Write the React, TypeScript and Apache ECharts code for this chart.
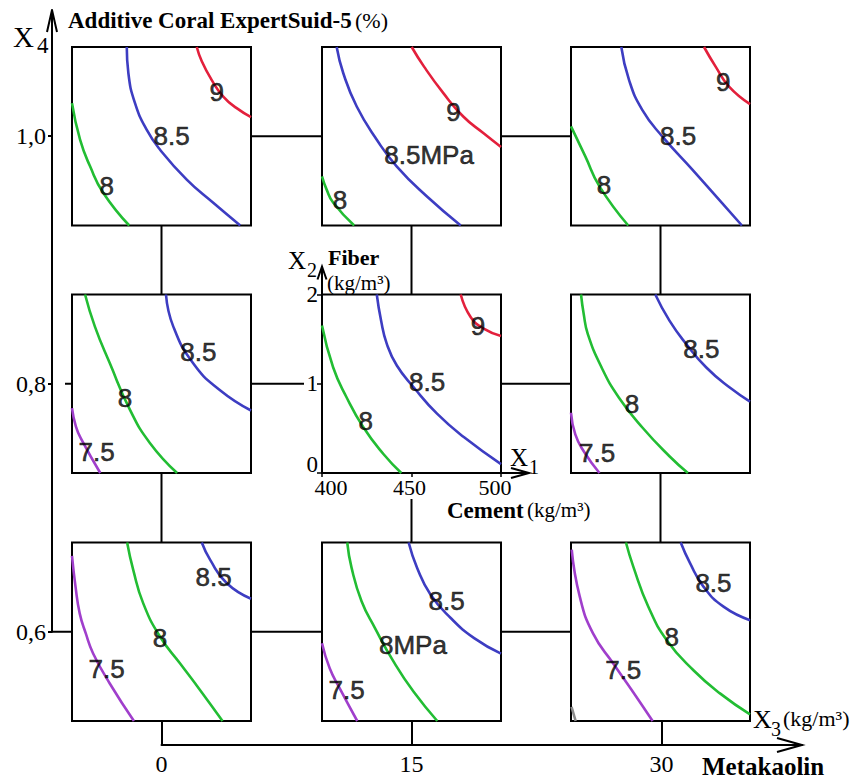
import React, { useEffect, useRef } from "react";
import * as echarts from "echarts";

// ---------- axis values ----------
const X1_MIN = 400;
const X1_MAX = 500;
const X2_MIN = 0;
const X2_MAX = 2;
const X1_TICKS = [400, 450, 500];
const X2_TICKS = [0, 1, 2];
const X2_LABEL_POS = [0.1, 1, 2]; // "0" label sits slightly above its tick in the reference
const X3_TICKS = [0, 15, 30];
const X4_TICKS = [0.6, 0.8, 1.0];

// ---------- contour lines, [X1 cement, X2 fiber] ----------
// top row (X4 = 1.0)
const TL_9 = [[469.7, 2], [472.5, 1.84], [478, 1.631], [484.5, 1.445], [492, 1.315], [500, 1.215]];
const TL_85 = [[430.6, 2], [431.5, 1.706], [435.2, 1.371], [441.7, 1.073], [449.2, 0.849], [464.1, 0.514], [478.9, 0.254], [494, 0]];
const TL_8 = [[400, 1.371], [404.5, 0.961], [410.1, 0.663], [417.5, 0.365], [432, 0]];
const TL_LABELS = [[480.8, 1.5, "9"], [455.7, 1.0, "8.5"], [419.4, 0.44, "8"]];

const TM_9 = [[450.1, 2], [457, 1.78], [467.8, 1.483], [478.9, 1.221], [490.1, 1.036], [500, 0.88]];
const TM_85 = [[408.2, 2], [411.9, 1.706], [419.4, 1.333], [430.6, 0.961], [441.7, 0.663], [458.5, 0.327], [477.5, 0]];
const TM_8 = [[400, 0.551], [402.6, 0.402], [406.3, 0.254], [418, 0]];
const TM_LABELS = [[473.4, 1.277, "9"], [459.8, 0.793, "8.5MPa"], [410.1, 0.29, "8"]];

const TR_9 = [[474.3, 2], [480.8, 1.78], [488.3, 1.556], [500, 1.36]];
const TR_85 = [[428.1, 2], [432.4, 1.631], [439.8, 1.296], [451, 0.998], [467.8, 0.626], [482.7, 0.291], [495.5, 0]];
const TR_8 = [[400, 1.11], [408, 0.774], [415.9, 0.439], [432, 0]];
const TR_LABELS = [[485.1, 1.61, "9"], [459.8, 1.0, "8.5"], [418.4, 0.458, "8"]];

// middle row (X4 = 0.8)
const ML_85 = [[452.5, 2], [456.6, 1.64], [467.8, 1.226], [482.7, 0.927], [500, 0.7]];
const ML_8 = [[407.3, 2], [412.8, 1.64], [421.2, 1.226], [432.4, 0.708], [443.6, 0.334], [458.7, 0]];
const ML_75 = [[400, 0.727], [402.2, 0.52], [405.4, 0.37], [415.8, 0]];
const ML_LABELS = [[470.6, 1.36, "8.5"], [429.6, 0.84, "8"], [413.8, 0.24, "7.5"]];

const C_9 = [[477.5, 2], [483.1, 1.746], [490.6, 1.615], [500, 1.535]];
const C_85 = [[430.6, 2], [433, 1.708], [436.2, 1.447], [441.8, 1.204], [451.2, 0.961], [464.4, 0.662], [479.4, 0.4], [500, 0.1]];
const C_8 = [[400, 1.652], [406.2, 1.185], [413.7, 0.849], [423.1, 0.512], [434.3, 0.213], [444.3, 0]];
const C_LABELS = [[487.2, 1.65, "9"], [458.7, 1.017, "8.5"], [424.4, 0.587, "8"]];

const MR_85 = [[447.1, 2], [455, 1.707], [464.4, 1.445], [475.6, 1.182], [488.7, 0.957], [500, 0.8]];
const MR_8 = [[405.6, 2], [407.1, 1.782], [409.4, 1.557], [417.1, 1.182], [426.8, 0.844], [440, 0.507], [455, 0.188], [465.3, 0]];
const MR_75 = [[400, 0.675], [402.4, 0.432], [407.1, 0.244], [415.9, 0]];
const MR_LABELS = [[472.8, 1.388, "8.5"], [434, 0.769, "8"], [414.6, 0.225, "7.5"]];

// bottom row (X4 = 0.6)
const BL_85 = [[472.5, 2], [477.2, 1.805], [486.5, 1.543], [500, 1.37]];
const BL_8 = [[430.8, 2], [434.2, 1.693], [439.8, 1.318], [449.2, 0.944], [460.4, 0.644], [471.6, 0.345], [484.1, 0]];
const BL_75 = [[400, 1.85], [402, 1.5], [404.3, 1.206], [407.7, 0.981], [411.8, 0.757], [421.1, 0.42], [434.6, 0]];
const BL_LABELS = [[479.1, 1.618, "8.5"], [449.2, 0.925, "8"], [419.3, 0.588, "7.5"]];

const BM_85 = [[448.4, 2], [453.1, 1.718], [460.6, 1.417], [471.9, 1.154], [485, 0.929], [500, 0.755]];
const BM_8 = [[414.1, 2], [416.5, 1.718], [422.1, 1.342], [429.6, 1.041], [440, 0.665], [451.2, 0.327], [464.4, 0]];
const BM_75 = [[400, 0.872], [404.3, 0.59], [409.9, 0.365], [419.7, 0]];
const BM_LABELS = [[469.6, 1.342, "8.5"], [450.8, 0.853, "8MPa"], [413.7, 0.346, "7.5"]];

const BR_85 = [[461.3, 2], [466.5, 1.768], [474, 1.506], [485.2, 1.281], [500, 1.13]];
const BR_8 = [[430.7, 2], [434.8, 1.73], [443.2, 1.281], [453.5, 0.906], [468.4, 0.569], [483.4, 0.307], [500, 0.075]];
const BR_75 = [[400.4, 1.92], [404.9, 1.393], [412.3, 0.981], [423.6, 0.644], [434, 0.345], [445.6, 0]];
const BR_7 = [[400.3, 0.157], [402.6, 0]];
const BR_LABELS = [[479.6, 1.543, "8.5"], [456.3, 0.944, "8"], [429.2, 0.569, "7.5"]];

// ---------- styling ----------
const SERIF = '"Liberation Serif", "Times New Roman", serif';
const SANS = '"Liberation Sans", Arial, sans-serif';
const LEVEL_COLOR: Record<string, string> = {
  "9": "#e3203c",
  "8.5": "#3d3dc2",
  "8": "#22bd33",
  "7.5": "#a03fcc",
  "7": "#8c8c8c",
};

const PANEL_LEFT = [72, 322, 571];
const PANEL_TOP = [47, 294.5, 542.5];
const PANEL_W = 179;
const PANEL_H = 178.5;
const X4_AXIS_X = 52;
const X4_AXIS_TOP = 10;
const X3_AXIS_Y = 745;
const X3_AXIS_END = 802;

type Curve = { level: string; pts: number[][] };
type Panel = { row: number; col: number; curves: Curve[]; labels: (number | string)[][]; center?: boolean };

const PANELS: Panel[] = [
  { row: 0, col: 0, curves: [{ level: "9", pts: TL_9 }, { level: "8.5", pts: TL_85 }, { level: "8", pts: TL_8 }], labels: TL_LABELS },
  { row: 0, col: 1, curves: [{ level: "9", pts: TM_9 }, { level: "8.5", pts: TM_85 }, { level: "8", pts: TM_8 }], labels: TM_LABELS },
  { row: 0, col: 2, curves: [{ level: "9", pts: TR_9 }, { level: "8.5", pts: TR_85 }, { level: "8", pts: TR_8 }], labels: TR_LABELS },
  { row: 1, col: 0, curves: [{ level: "8.5", pts: ML_85 }, { level: "8", pts: ML_8 }, { level: "7.5", pts: ML_75 }], labels: ML_LABELS },
  { row: 1, col: 1, center: true, curves: [{ level: "9", pts: C_9 }, { level: "8.5", pts: C_85 }, { level: "8", pts: C_8 }], labels: C_LABELS },
  { row: 1, col: 2, curves: [{ level: "8.5", pts: MR_85 }, { level: "8", pts: MR_8 }, { level: "7.5", pts: MR_75 }], labels: MR_LABELS },
  { row: 2, col: 0, curves: [{ level: "8.5", pts: BL_85 }, { level: "8", pts: BL_8 }, { level: "7.5", pts: BL_75 }], labels: BL_LABELS },
  { row: 2, col: 1, curves: [{ level: "8.5", pts: BM_85 }, { level: "8", pts: BM_8 }, { level: "7.5", pts: BM_75 }], labels: BM_LABELS },
  { row: 2, col: 2, curves: [{ level: "8.5", pts: BR_85 }, { level: "8", pts: BR_8 }, { level: "7.5", pts: BR_75 }, { level: "7", pts: BR_7 }], labels: BR_LABELS },
];

function buildOption() {
  const grid: any[] = [];
  const xAxis: any[] = [];
  const yAxis: any[] = [];
  const series: any[] = [];
  const tickFont = { fontFamily: SERIF, fontSize: 22, color: "#000" };

  PANELS.forEach((p, i) => {
    grid.push({
      left: PANEL_LEFT[p.col],
      top: PANEL_TOP[p.row],
      width: PANEL_W,
      height: PANEL_H,
      show: true,
      borderColor: "#000",
      borderWidth: 2,
      backgroundColor: "#fff",
      containLabel: false,
    });
    xAxis.push({
      gridIndex: i,
      type: "value",
      min: X1_MIN,
      max: X1_MAX,
      interval: 50,
      show: !!p.center,
      axisLine: { show: true, lineStyle: { color: "#000", width: 2 } },
      axisTick: { show: true, length: 4, lineStyle: { color: "#000", width: 1.5 } },
      axisLabel: {
        ...tickFont,
        margin: 5,
        lineHeight: 18,
        customValues: X1_TICKS,
        formatter: (v: number) => (v === X1_MIN ? `{l|${v}}` : v === X1_MAX ? `{r|${v}}` : `{m|${v}}`),
        rich: {
          l: { ...tickFont, lineHeight: 18, padding: [0, 0, 0, 18] },
          r: { ...tickFont, lineHeight: 18, padding: [0, 12, 0, 0] },
          m: { ...tickFont, lineHeight: 18, padding: [0, 4, 0, 0] },
        },
      },
      splitLine: { show: false },
    });
    yAxis.push({
      gridIndex: i,
      type: "value",
      min: X2_MIN,
      max: X2_MAX,
      interval: 1,
      show: !!p.center,
      axisLine: { show: true, lineStyle: { color: "#000", width: 2 } },
      axisTick: { show: true, length: 5, customValues: X2_TICKS, lineStyle: { color: "#000", width: 1.5 } },
      axisLabel: {
        ...tickFont,
        fontSize: 23,
        margin: 4,
        lineHeight: 18,
        customValues: X2_LABEL_POS,
        formatter: (v: number) => String(Math.round(v)),
      },
      splitLine: { show: false },
    });
    p.curves.forEach((c) => {
      series.push({
        type: "line",
        xAxisIndex: i,
        yAxisIndex: i,
        data: c.pts,
        smooth: 0.5,
        showSymbol: false,
        symbol: "none",
        silent: true,
        clip: true,
        lineStyle: { color: LEVEL_COLOR[c.level], width: 2.6 },
        z: 3,
      });
    });
    series.push({
      type: "scatter",
      xAxisIndex: i,
      yAxisIndex: i,
      silent: true,
      symbolSize: 1,
      itemStyle: { color: "rgba(0,0,0,0)" },
      data: p.labels.map((l) => ({ value: [l[0], l[1]], name: String(l[2]) })),
      label: {
        show: true,
        position: "inside",
        formatter: "{b}",
        fontFamily: SANS,
        fontSize: 26,
        color: "#000",
        textBorderColor: "#000",
        textBorderWidth: 0.6,
      },
      z: 5,
    });
  });

  // outer X4 axis (vertical, additive)
  const cy = PANEL_TOP.map((t) => t + PANEL_H / 2);
  const cx = PANEL_LEFT.map((l) => l + PANEL_W / 2);
  const x4Max = 0.6 + (0.2 * (cy[2] - X4_AXIS_TOP)) / (cy[2] - cy[1]);
  const gi4 = grid.length;
  grid.push({ left: X4_AXIS_X, top: X4_AXIS_TOP, width: 20, height: cy[2] - X4_AXIS_TOP, show: false });
  xAxis.push({ gridIndex: gi4, type: "value", show: false, min: 0, max: 1 });
  yAxis.push({
    gridIndex: gi4,
    type: "value",
    position: "left",
    min: 0.6,
    max: x4Max,
    axisLine: { show: true, lineStyle: { color: "#000", width: 2 } },
    axisTick: { show: true, length: 4, customValues: X4_TICKS, lineStyle: { color: "#000", width: 2 } },
    axisLabel: {
      show: true,
      customValues: X4_TICKS,
      margin: 6,
      fontFamily: SERIF,
      fontSize: 24,
      color: "#000",
      formatter: (v: number) => v.toFixed(1).replace(".", ","),
    },
    splitLine: { show: false },
  });

  // outer X3 axis (horizontal, metakaolin)
  const x3Max = (15 * (X3_AXIS_END - cx[0])) / (cx[1] - cx[0]);
  const gi3 = grid.length;
  const panelBottom = PANEL_TOP[2] + PANEL_H;
  grid.push({ left: cx[0], top: X3_AXIS_Y - 40, width: X3_AXIS_END - cx[0], height: 40, show: false });
  xAxis.push({
    gridIndex: gi3,
    type: "value",
    position: "bottom",
    min: 0,
    max: x3Max,
    axisLine: { show: true, lineStyle: { color: "#000", width: 2 } },
    axisTick: {
      show: true,
      inside: true,
      length: X3_AXIS_Y - panelBottom,
      customValues: X3_TICKS,
      lineStyle: { color: "#000", width: 2 },
    },
    axisLabel: { show: true, customValues: X3_TICKS, margin: 7, fontFamily: SERIF, fontSize: 24, color: "#000" },
    splitLine: { show: false },
  });
  yAxis.push({ gridIndex: gi3, type: "value", show: false, min: 0, max: 1 });

  // connectors and decorations
  const ln = (x1: number, y1: number, x2: number, y2: number) => ({
    type: "line",
    silent: true,
    shape: { x1, y1, x2, y2 },
    style: { stroke: "#000", lineWidth: 2 },
    z: 1,
  });
  const chevron = (pts: number[][]) => ({
    type: "polyline",
    silent: true,
    shape: { points: pts },
    style: { stroke: "#000", lineWidth: 2, fill: null },
    z: 10,
  });
  const txt = (text: string, x: number, y: number, size: number, bold = false) => ({
    type: "text",
    silent: true,
    x,
    y,
    style: {
      text,
      fontFamily: SERIF,
      fontSize: size,
      fontWeight: bold ? "bold" : "normal",
      lineHeight: Math.round(size * 0.8),
      fill: "#000",
      align: "left",
      verticalAlign: "middle",
    },
    z: 10,
  });

  const g: any[] = [];
  for (let r = 0; r < 3; r++) {
    const leftEnd = r === 1 ? PANEL_LEFT[1] - 18 : PANEL_LEFT[1];
    g.push(ln(PANEL_LEFT[0] + PANEL_W, cy[r], leftEnd, cy[r]));
    g.push(ln(PANEL_LEFT[1] + PANEL_W, cy[r], PANEL_LEFT[2], cy[r]));
  }
  for (let c = 0; c < 3; c++) {
    g.push(ln(cx[c], PANEL_TOP[0] + PANEL_H, cx[c], PANEL_TOP[1]));
    const start = c === 1 ? PANEL_TOP[1] + PANEL_H + 26 : PANEL_TOP[1] + PANEL_H;
    g.push(ln(cx[c], start, cx[c], PANEL_TOP[2]));
  }
  g.push(ln(X4_AXIS_X, cy[2], PANEL_LEFT[0], cy[2]));
  g.push(ln(PANEL_LEFT[0] - 7, cy[1], PANEL_LEFT[0], cy[1]));

  // arrows
  g.push(chevron([[47, 32], [X4_AXIS_X, X4_AXIS_TOP], [57, 32]]));
  g.push(chevron([[777, X3_AXIS_Y - 7], [X3_AXIS_END, X3_AXIS_Y], [777, X3_AXIS_Y + 7]]));
  const cL = PANEL_LEFT[1];
  const cT = PANEL_TOP[1];
  const cB = cT + PANEL_H;
  const cR = cL + PANEL_W;
  g.push({ ...ln(cR, cB, cR + 28, cB), z: 10 });
  g.push(chevron([[cR + 10, cB - 5], [cR + 28, cB], [cR + 10, cB + 5]]));
  g.push({ ...ln(cL, cT, cL, cT - 28), z: 10 });
  g.push(chevron([[cL - 4.5, cT - 15], [cL, cT - 28], [cL + 4.5, cT - 15]]));

  // texts
  g.push(txt("X", 13, 37, 29));
  g.push(txt("4", 37, 45, 23));
  g.push({
    type: "text",
    silent: true,
    x: 68,
    y: 20,
    style: {
      text: "{b|Additive Coral ExpertSuid-5} {n|(%)}",
      verticalAlign: "middle",
      rich: {
        b: { fontFamily: SERIF, fontSize: 23, fontWeight: "bold", fill: "#000" },
        n: { fontFamily: SERIF, fontSize: 22, fill: "#000" },
      },
    },
    z: 10,
  });
  g.push(txt("X", 288, 260, 25));
  g.push(txt("2", 307, 270, 20));
  g.push(txt("Fiber", 328, 257.5, 22, true));
  g.push(txt("(kg/m³)", 327, 283, 21));
  g.push(txt("X", 510, 457, 25));
  g.push(txt("1", 529, 467, 20));
  g.push(txt("Cement", 447, 510, 23, true));
  g.push(txt("(kg/m³)", 527, 510, 21));
  g.push(txt("X", 753, 719, 26));
  g.push(txt("3", 771, 729, 20));
  g.push(txt("(kg/m³)", 783, 718, 22));
  g.push(txt("Metakaolin", 702, 766, 25, true));

  return {
    animation: false,
    backgroundColor: "#fff",
    grid,
    xAxis,
    yAxis,
    series,
    graphic: { elements: g },
  };
}

export default function App() {
  const ref = useRef<HTMLDivElement>(null);
  useEffect(() => {
    if (!ref.current) return;
    const chart = echarts.init(ref.current, null, { renderer: "svg" });
    chart.setOption(buildOption() as any);
    return () => chart.dispose();
  }, []);
  return (
    <div
      ref={ref}
      style={{ position: "absolute", left: 0, top: 0, width: 857, height: 778, background: "#fff" }}
    />
  );
}
